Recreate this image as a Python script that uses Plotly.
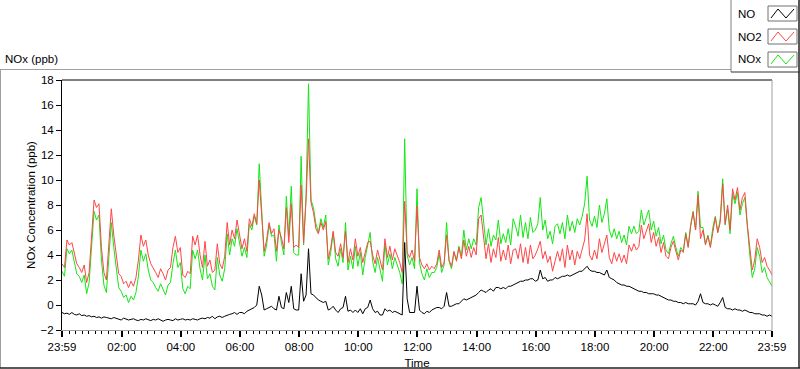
import pandas as pd
import plotly.graph_objects as go

# ---------------- data (5-minute samples, 23:59 -> 23:59 next day) ----------------
start_time = "2013-06-01 23:59"
step = "5min"

NO = [
    -0.6, -0.7, -0.65, -0.75, -0.6, -0.75, -0.8, -0.7, -0.85, -0.8,
    -0.9, -0.85, -0.95, -0.9, -1.0, -0.95, -1.05, -0.95, -1.0, -1.05,
    -1.1, -1.0, -1.05, -1.1, -1.2, -1.05, -1.1, -1.2, -1.15, -1.1,
    -1.2, -1.25, -1.15, -1.2, -1.1, -1.2, -1.25, -1.15, -1.2, -1.1,
    -1.2, -1.3, -1.2, -1.15, -1.2, -1.25, -1.1, -1.2,
    -1.15, -1.1, -1.2, -1.15, -1.2, -1.1, -1.15, -1.2, -1.1, -1.05,
    -1.1, -1.0, -1.05, -0.9, -1.1, -0.95, -0.9, -1.0, -0.9, -0.8,
    -0.75, -0.7, -0.6, -0.75, -0.6, -0.6, -0.7, -0.5, -0.4, -0.3,
    -0.2, 0.0, 1.5, 0.8, -0.4, -0.3, -0.2, -0.1, -0.3, -0.4,
    0.7, -0.2, -0.3, 1.0, 0.2, 1.5, -0.3, -0.4,
    -0.4, 2.5, 0.3, 0.8, 4.5, 0.9, 0.8, 0.6, 0.4, 0.3,
    0.2, 0.3, -0.4, -0.3, -0.1, -0.4, -0.6, -0.3, -0.2, 0.7,
    -0.5, -0.4, -0.6, -0.4, -0.6, -0.3, -0.7, -0.3, -0.2, 0.4,
    -0.3, -0.6, -0.5, -0.8, -0.8, -0.3, -0.5, -0.4, -0.6, -0.5,
    -0.6, -0.7, -0.8, 5.0, 0.5, -0.6, -0.6, -0.6,
    1.5, -0.4, -0.6, -0.7, -0.5, -0.6, -0.4, -0.3, -0.2, -0.2,
    -0.3, -0.1, 1.0, -0.1, -0.1, 0.0, 0.1, 0.1, 0.3, 0.5,
    0.4, 0.5, 0.6, 0.7, 0.8, 1.0, 1.2, 1.1, 1.0, 1.2,
    1.3, 1.1, 1.4, 1.4, 1.3, 1.4, 1.3, 1.5, 1.5, 1.6,
    1.7, 1.8, 1.9, 1.9, 2.0, 2.0, 2.1, 2.1,
    1.9, 2.0, 2.8, 2.1, 2.2, 1.9, 2.0, 2.0, 2.2, 2.1,
    2.2, 2.3, 2.3, 2.4, 2.3, 2.4, 2.5, 2.6, 2.7, 2.7,
    2.9, 3.1, 2.8, 2.7, 2.7, 2.6, 2.6, 2.5, 2.4, 2.8,
    2.2, 2.1, 2.0, 1.8, 1.7, 1.6, 1.6, 1.5, 1.5, 1.4,
    1.3, 1.2, 1.1, 1.1, 1.0, 1.0, 0.9, 0.9,
    0.9, 0.8, 0.8, 0.7, 0.6, 0.5, 0.4, 0.4, 0.3, 0.3,
    0.2, 0.2, 0.1, 0.2, 0.1, 0.1, 0.1, 0.0, 0.3, 0.9,
    0.2, 0.1, 0.1, 0.0, 0.1, 0.0, -0.1, 0.2, 0.6, -0.2,
    -0.3, -0.3, -0.4, -0.3, -0.4, -0.4, -0.5, -0.4, -0.5, -0.6,
    -0.6, -0.7, -0.7, -0.7, -0.8, -0.8, -0.9, -0.8, -0.9,
]

NO2 = [
    3.3, 3.0, 5.2, 4.8, 5.0, 4.2, 3.3, 3.0, 2.6, 3.2,
    1.8, 2.6, 5.8, 8.4, 7.8, 8.1, 4.6, 2.6, 2.0, 5.2,
    7.7, 5.6, 3.8, 2.5, 2.3, 1.7, 1.9, 1.4, 1.9, 1.5,
    2.2, 3.6, 5.6, 4.7, 5.2, 4.0, 3.3, 3.0, 2.6, 2.2,
    2.9, 2.5, 2.0, 2.8, 3.0, 4.6, 5.5, 4.2,
    4.6, 2.4, 2.2, 2.7, 2.5, 5.5, 4.8, 5.6, 4.0, 3.0,
    5.1, 3.1, 3.6, 2.6, 2.8, 4.9, 3.3, 2.9, 3.9, 6.6,
    4.8, 6.0, 5.3, 6.8, 5.5, 4.5, 5.3, 4.3, 6.9, 6.3,
    7.3, 6.5, 10.0, 7.5, 4.3, 5.2, 6.6, 5.7, 6.1, 4.3,
    6.0, 5.4, 4.5, 7.8, 5.0, 8.1, 4.6, 4.8,
    4.6, 9.6, 5.0, 8.4, 13.3, 8.2, 7.4, 6.1, 5.7, 6.6,
    6.0, 6.7, 3.7, 4.6, 5.9, 4.2, 3.9, 4.9, 3.8, 5.9,
    3.4, 4.5, 3.6, 5.3, 3.9, 4.6, 3.4, 4.2, 5.0, 5.1,
    4.0, 3.3, 4.4, 3.6, 2.8, 5.3, 3.8, 4.7, 3.6, 4.5,
    3.9, 3.4, 2.6, 8.3, 4.2, 3.8, 4.4, 3.5,
    7.9, 3.8, 3.2, 2.9, 3.3, 2.8, 3.1, 2.9, 3.3, 4.4,
    3.0, 3.4, 5.6, 3.6, 3.1, 4.3, 3.5, 4.6, 3.7, 5.2,
    3.9, 4.7, 3.8, 4.6, 4.0, 6.9, 7.2, 5.3, 3.7, 4.9,
    3.4, 4.5, 3.8, 5.4, 3.5, 4.4, 3.6, 4.8, 3.3, 4.4,
    4.5, 3.7, 4.9, 3.4, 4.6, 3.3, 4.8, 3.7,
    4.0, 4.5, 5.1, 3.7, 4.3, 3.4, 3.9, 2.7, 3.6, 4.3,
    3.5, 4.5, 3.0, 4.8, 3.6, 4.4, 3.2, 4.3, 3.7, 4.5,
    5.2, 7.3, 4.0, 3.6, 4.4, 3.7, 5.3, 4.2, 4.9, 5.6,
    3.8, 3.3, 4.2, 3.5, 4.1, 3.4, 4.0, 3.3, 4.8, 4.3,
    4.9, 4.4, 4.7, 6.4, 5.3, 5.9, 6.5, 5.0,
    5.8, 4.7, 5.4, 4.2, 5.0, 3.9, 3.7, 4.6, 5.1, 4.3,
    3.6, 4.4, 4.2, 5.7, 4.6, 6.3, 7.4, 6.0, 8.8, 5.3,
    6.0, 4.8, 5.5, 4.6, 6.0, 7.0, 5.8, 6.6, 9.7, 6.5,
    8.0, 6.0, 9.3, 8.4, 9.4, 7.6, 8.6, 9.0, 6.4, 4.6,
    2.8, 3.6, 5.3, 4.6, 3.4, 3.8, 3.1, 2.8, 2.4,
]

NOx = [
    2.7, 2.3, 4.5, 4.1, 4.4, 3.5, 2.5, 2.3, 1.8, 2.4,
    0.9, 1.8, 4.9, 7.5, 6.8, 7.2, 3.6, 1.6, 1.0, 4.1,
    6.6, 4.6, 2.8, 1.4, 1.1, 0.6, 0.8, 0.2, 0.7, 0.4,
    1.0, 2.3, 4.4, 3.5, 4.1, 2.8, 2.0, 1.8, 1.4, 1.1,
    1.7, 1.2, 0.8, 1.6, 1.8, 3.3, 4.4, 3.0,
    3.4, 1.3, 0.9, 1.5, 1.3, 4.4, 3.7, 4.4, 2.9, 2.0,
    4.0, 2.1, 2.5, 1.5, 1.2, 3.8, 2.4, 1.9, 2.9, 5.7,
    4.0, 5.3, 4.7, 6.1, 4.9, 3.9, 4.6, 3.8, 6.5, 6.0,
    7.1, 6.4, 11.3, 7.8, 3.9, 4.8, 6.4, 5.5, 5.6, 3.5,
    6.4, 5.0, 4.0, 8.7, 5.5, 9.5, 4.2, 4.0,
    4.0, 11.9, 4.8, 8.7, 17.7, 8.4, 7.8, 6.5, 5.8, 6.9,
    6.2, 7.2, 3.2, 4.2, 5.8, 3.7, 3.1, 4.5, 3.4, 6.6,
    2.8, 3.9, 2.9, 4.7, 3.1, 4.2, 2.4, 3.8, 4.7, 5.8,
    3.5, 2.6, 3.8, 2.9, 1.9, 4.9, 3.2, 4.1, 2.9, 3.8,
    3.2, 2.6, 1.7, 13.3, 4.0, 3.2, 3.8, 2.9,
    9.3, 3.4, 2.5, 2.0, 2.9, 2.2, 2.6, 2.6, 3.0, 4.1,
    2.6, 3.2, 6.6, 3.5, 2.9, 4.2, 3.6, 4.7, 3.9, 6.0,
    4.4, 5.3, 4.5, 5.3, 4.8, 7.8, 8.6, 6.4, 4.8, 6.1,
    4.7, 5.6, 5.2, 6.8, 4.9, 5.7, 5.0, 6.1, 4.8, 6.9,
    6.3, 5.5, 7.2, 5.4, 6.6, 5.3, 7.0, 5.8,
    6.0, 6.5, 8.6, 6.0, 6.8, 5.3, 5.9, 4.9, 6.3, 6.5,
    5.7, 6.6, 5.3, 7.2, 5.9, 6.7, 5.8, 6.9, 6.4, 7.1,
    8.1, 10.3, 6.8, 6.3, 7.1, 6.2, 8.0, 6.6, 7.3, 8.5,
    6.0, 5.4, 6.1, 5.3, 5.9, 5.0, 5.6, 4.8, 6.3, 5.7,
    6.3, 5.7, 5.9, 7.6, 6.4, 7.0, 7.6, 6.0,
    6.7, 5.5, 6.2, 4.9, 5.6, 4.4, 4.1, 4.9, 5.5, 4.6,
    3.9, 4.6, 4.3, 5.8, 4.7, 6.4, 7.5, 6.0, 9.1, 6.2,
    6.2, 4.9, 5.6, 4.7, 6.2, 7.1, 5.8, 6.9, 10.1, 6.4,
    7.7, 5.7, 8.9, 8.1, 9.0, 7.2, 8.1, 8.6, 5.9, 4.0,
    2.2, 2.9, 4.6, 3.9, 2.6, 3.0, 2.2, 1.9, 1.5,
]

tick_times = [
    "2013-06-01 23:59", "2013-06-02 02:00", "2013-06-02 04:00", "2013-06-02 06:00",
    "2013-06-02 08:00", "2013-06-02 10:00", "2013-06-02 12:00", "2013-06-02 14:00",
    "2013-06-02 16:00", "2013-06-02 18:00", "2013-06-02 20:00", "2013-06-02 22:00",
    "2013-06-02 23:59",
]
tick_labels = ["23:59", "02:00", "04:00", "06:00", "08:00", "10:00", "12:00",
               "14:00", "16:00", "18:00", "20:00", "22:00", "23:59"]
y_ticks = [-2, 0, 2, 4, 6, 8, 10, 12, 14, 16, 18]
series_names = ["NO", "NO2", "NOx"]
series_colors = {"NO": "#000000", "NO2": "#ff4646", "NOx": "#14e614"}

times = pd.date_range(start_time, periods=len(NO), freq=step)

# ---------------- figure ----------------
W, H = 800, 369
L, R, T, B = 62, 772, 80, 330
FONT = "Liberation Sans, Arial, sans-serif"
FS = 11.5


def px(x):
    return (x - L) / (R - L)


def py(y):
    return (B - y) / (B - T)


fig = go.Figure()
series = {"NO": NO, "NO2": NO2, "NOx": NOx}
for name in ["NOx", "NO2", "NO"]:
    fig.add_trace(go.Scatter(
        x=times, y=series[name], mode="lines", name=name,
        line=dict(color=series_colors[name], width=1),
        showlegend=False, hoverinfo="skip",
    ))

fig.update_layout(
    width=W, height=H, autosize=False,
    margin=dict(l=L, r=W - R, t=T, b=H - B, pad=0, autoexpand=False),
    paper_bgcolor="white", plot_bgcolor="white",
    font=dict(family=FONT, size=FS, color="#000000"),
)

fig.update_xaxes(
    automargin=False,
    range=[tick_times[0], tick_times[-1]],
    tickmode="array", tickvals=tick_times, ticktext=tick_labels,
    ticks="outside", ticklen=6, tickwidth=2, tickcolor="#000000",
    ticklabelstandoff=0,
    showgrid=False, zeroline=False,
    showline=True, linecolor="#a0a0a0", linewidth=1,
    minor=dict(tickmode="linear", tick0="2013-06-02 02:00", dtick=800000,
               ticks="outside", ticklen=3, tickwidth=1, tickcolor="#000000", showgrid=False),
    title=dict(text="Time", standoff=9, font=dict(size=FS)),
    tickfont=dict(size=FS),
)
fig.update_yaxes(
    automargin=False,
    range=[-2, 18], tickmode="array", tickvals=y_ticks,
    ticks="outside", ticklen=5, tickcolor="#000000",
    showgrid=False, zeroline=False,
    showline=True, linecolor="#000000", linewidth=1,
    title=dict(text="NOx Concentration (ppb)", standoff=2, font=dict(size=FS)),
    tickfont=dict(size=FS),
)

shapes = []
# plot frame: top dark, right light
shapes.append(dict(type="line", xref="paper", yref="paper", x0=0, x1=1, y0=1, y1=1,
                   line=dict(color="#000000", width=1)))
shapes.append(dict(type="line", xref="paper", yref="paper", x0=1, x1=1, y0=0, y1=1,
                   line=dict(color="#a0a0a0", width=1)))
# outer panel
shapes.append(dict(type="line", xref="paper", yref="paper", x0=px(0), x1=px(731),
                   y0=py(69.5), y1=py(69.5), line=dict(color="#a0a0a0", width=1)))
shapes.append(dict(type="line", xref="paper", yref="paper", x0=px(0.5), x1=px(0.5),
                   y0=py(69.5), y1=py(368), line=dict(color="#a0a0a0", width=1)))
shapes.append(dict(type="line", xref="paper", yref="paper", x0=px(0), x1=px(800),
                   y0=py(368), y1=py(368), line=dict(color="#202020", width=1.5)))
shapes.append(dict(type="line", xref="paper", yref="paper", x0=px(799), x1=px(799),
                   y0=py(0), y1=py(368), line=dict(color="#202020", width=1.5)))
# legend box
shapes.append(dict(type="line", xref="paper", yref="paper", x0=px(731), x1=px(731),
                   y0=py(0), y1=py(72), line=dict(color="#808080", width=1)))
shapes.append(dict(type="line", xref="paper", yref="paper", x0=px(731), x1=px(800),
                   y0=py(72), y1=py(72), line=dict(color="#303030", width=1)))

annotations = [
    dict(text="NOx (ppb)", xref="paper", yref="paper", x=px(3), y=py(59),
         xanchor="left", yanchor="middle", showarrow=False, font=dict(size=FS)),
]
legend_rows = [13.5, 36.5, 59.5]
for name, yc in zip(series_names, legend_rows):
    annotations.append(dict(text=name, xref="paper", yref="paper", x=px(736), y=py(yc),
                            xanchor="left", yanchor="middle", showarrow=False,
                            font=dict(size=FS)))
    bx0, bx1 = 768, 797
    by0, by1 = yc - 7.5, yc + 7.5
    shapes.append(dict(type="rect", xref="paper", yref="paper",
                       x0=px(bx0), x1=px(bx1), y0=py(by0), y1=py(by1),
                       line=dict(color="#707070", width=1), fillcolor="white"))
    pts = [(bx0 + 3, by1 - 3), (bx0 + 10, by0 + 3), (bx0 + 18, by1 - 3), (bx1 - 3, by0 + 3)]
    path = "M " + " L ".join(f"{px(a):.5f},{py(b):.5f}" for a, b in pts)
    shapes.append(dict(type="path", xref="paper", yref="paper", path=path,
                       line=dict(color=series_colors[name], width=1)))

fig.update_layout(shapes=shapes, annotations=annotations)
fig.write_html(
    "out.html",
    config={"displayModeBar": False, "staticPlot": True},
    post_script="document.body.style.margin='0px';document.body.style.overflow='hidden';",
)
